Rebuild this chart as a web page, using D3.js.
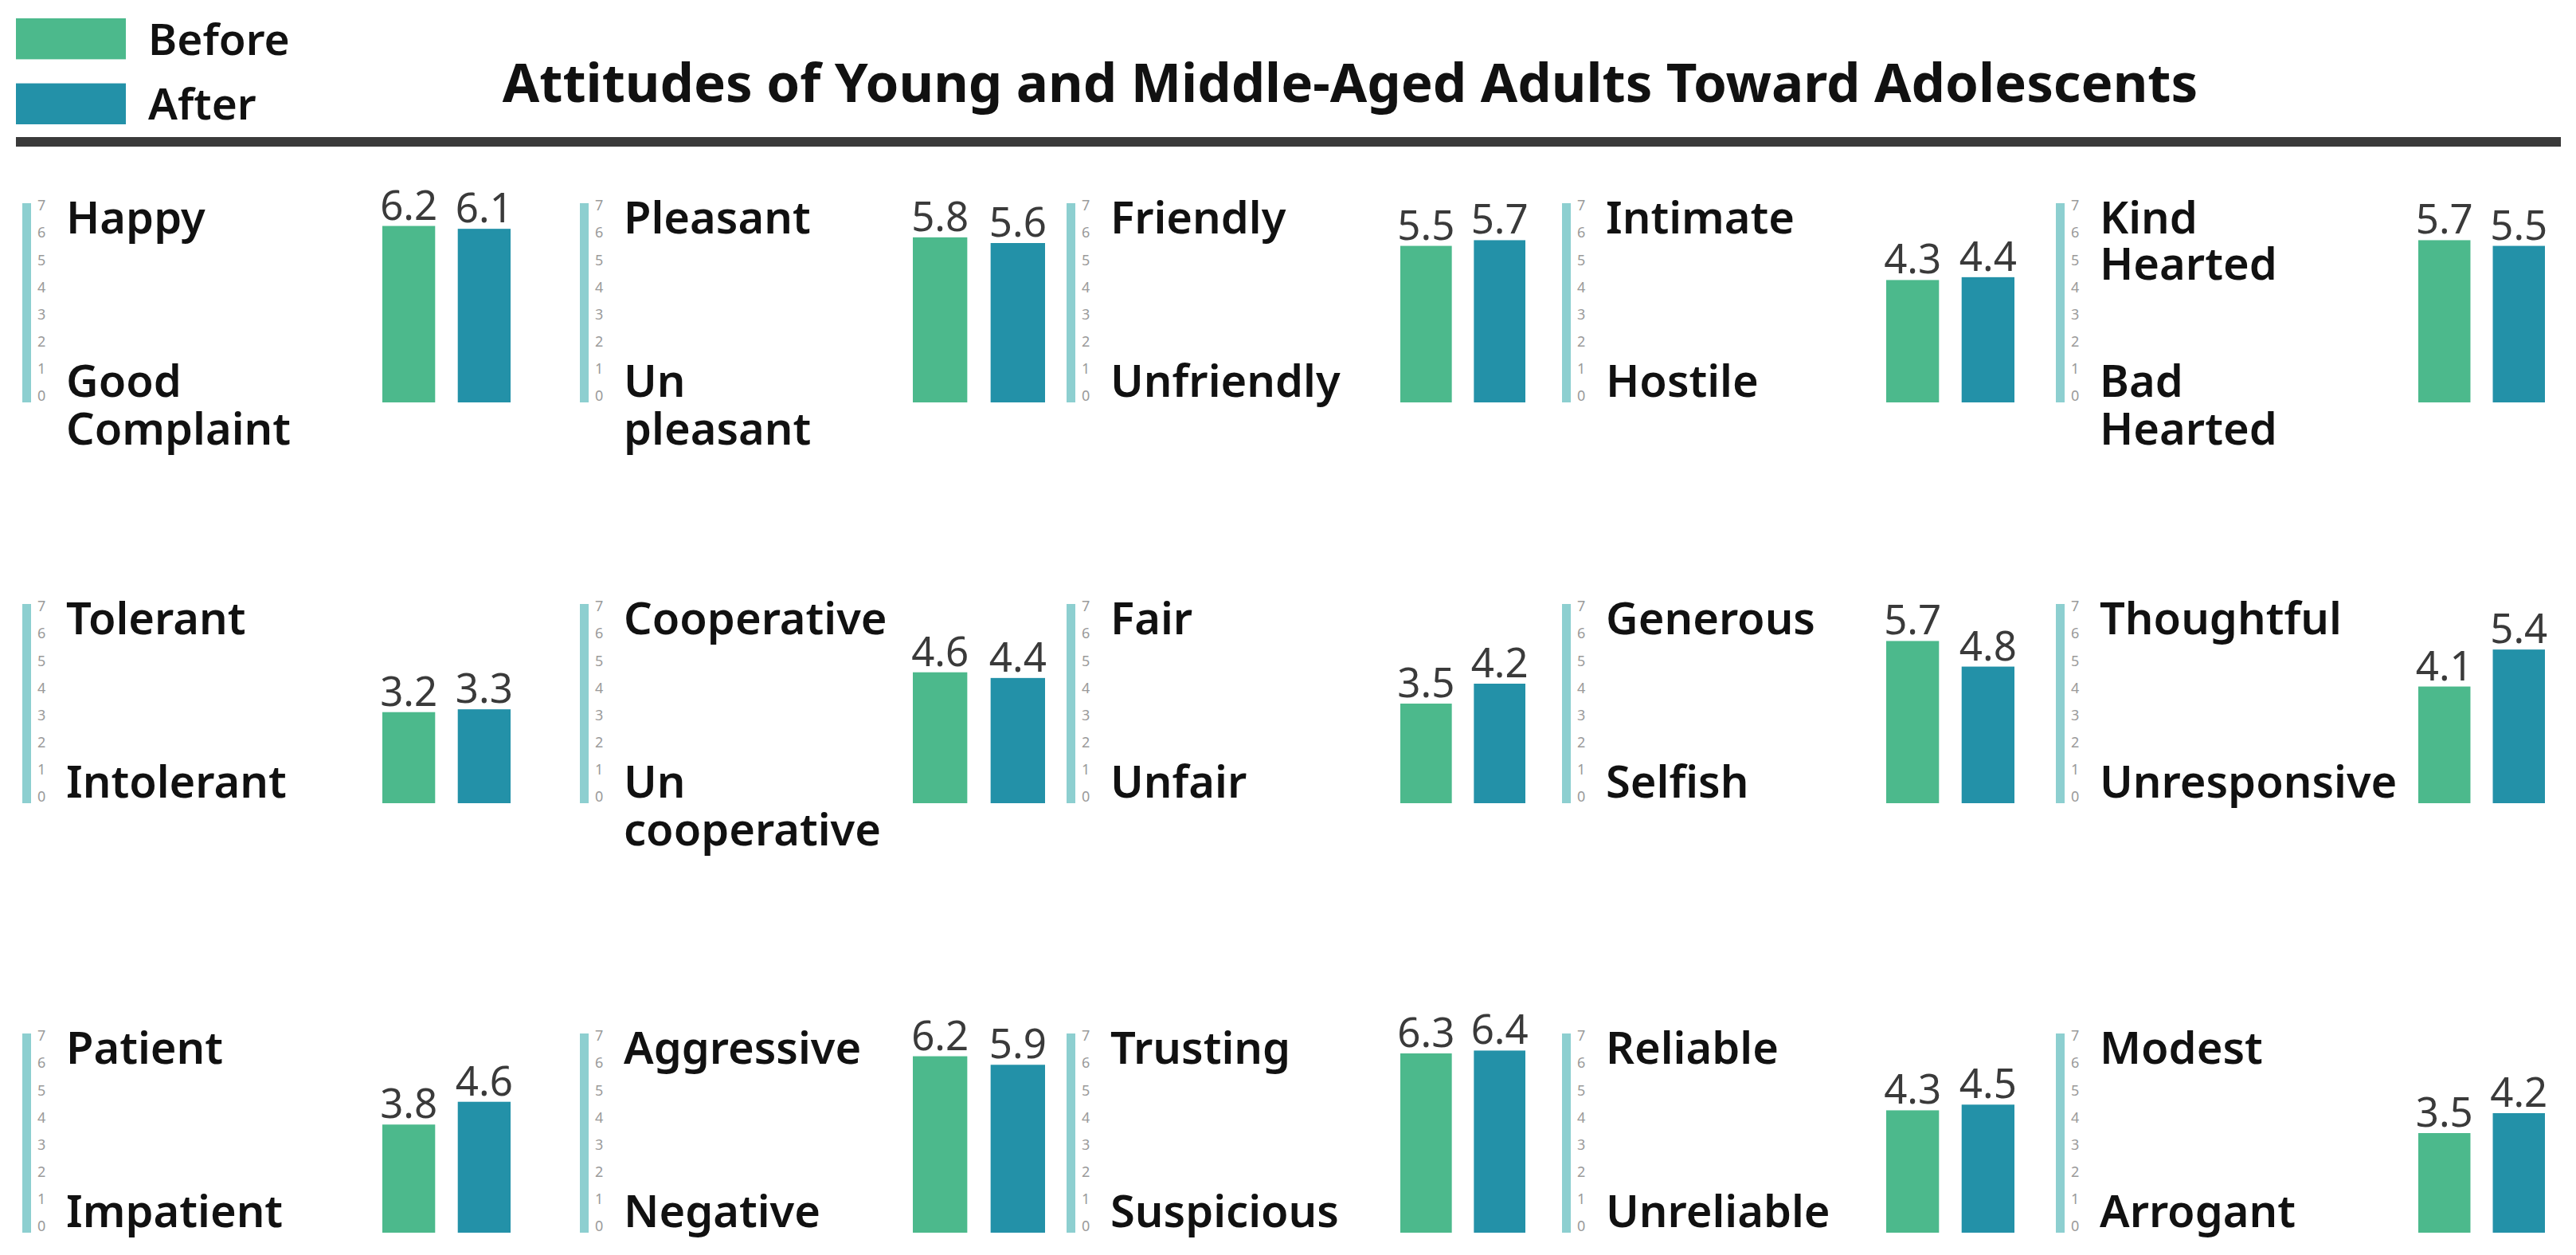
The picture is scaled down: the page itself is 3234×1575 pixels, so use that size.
<!DOCTYPE html>
<html>
<head>
<meta charset="utf-8">
<script src="https://cdn.jsdelivr.net/npm/d3@7"></script>
<style>
  html, body { margin: 0; padding: 0; background: #ffffff; }
  svg { display: block; }
</style>
</head>
<body>
<svg id="chart" width="3234" height="1575"></svg>
<script>
// ---------------- DATA ----------------
const title = "Attitudes of Young and Middle-Aged Adults Toward Adolescents";
const series = ["Before", "After"];
const topLabels = [
  ["Happy"], ["Pleasant"], ["Friendly"], ["Intimate"], ["Kind", "Hearted"],
  ["Tolerant"], ["Cooperative"], ["Fair"], ["Generous"], ["Thoughtful"],
  ["Patient"], ["Aggressive"], ["Trusting"], ["Reliable"], ["Modest"]
];
const bottomLabels = [
  ["Good", "Complaint"], ["Un", "pleasant"], ["Unfriendly"], ["Hostile"], ["Bad", "Hearted"],
  ["Intolerant"], ["Un", "cooperative"], ["Unfair"], ["Selfish"], ["Unresponsive"],
  ["Impatient"], ["Negative"], ["Suspicious"], ["Unreliable"], ["Arrogant"]
];
const beforeValues = [6.2, 5.8, 5.5, 4.3, 5.7, 3.2, 4.6, 3.5, 5.7, 4.1, 3.8, 6.2, 6.3, 4.3, 3.5];
const afterValues  = [6.1, 5.6, 5.7, 4.4, 5.5, 3.3, 4.4, 4.2, 4.8, 5.4, 4.6, 5.9, 6.4, 4.5, 4.2];
const yTickValues = [0, 1, 2, 3, 4, 5, 6, 7];

// ---------------- LAYOUT / STYLE ----------------
const colors = { Before: "#4cb98c", After: "#2391a8" };
const axisColor = "#8dcfd0";
const colAxisX = [28, 728, 1339, 1961, 2581];
const colBarRange = [[480, 641], [1146, 1312], [1758, 1915], [2368, 2529], [3036, 3195]];
const rowTop = [255, 758, 1297];
const panelH = 250;
const FONT = "'Noto Sans', 'Open Sans', sans-serif";

const svg = d3.select("#chart");

// Legend
const legend = svg.append("g");
const legendY = d3.scaleBand().domain(series).range([23, 156]).paddingInner(0.37);
series.forEach(s => {
  legend.append("rect")
    .attr("x", 20).attr("y", legendY(s))
    .attr("width", 138).attr("height", legendY.bandwidth())
    .attr("fill", colors[s]);
  legend.append("text")
    .attr("x", 186).attr("y", legendY(s) + legendY.bandwidth() / 2)
    .attr("dy", "0.36em")
    .attr("font-family", FONT).attr("font-weight", 600)
    .attr("font-size", 55).attr("fill", "#111")
    .text(s);
});

// Title (fit to reference width)
const titleEl = svg.append("text")
  .attr("x", 1695).attr("y", 128)
  .attr("text-anchor", "middle")
  .attr("font-family", FONT).attr("font-weight", 700)
  .attr("font-size", 66).attr("fill", "#111")
  .text(title);
const tw = titleEl.node().getComputedTextLength();
const targetW = 2129;
titleEl.attr("font-size", 66 * targetW / tw);

// Rule
svg.append("rect").attr("x", 20).attr("y", 172).attr("width", 3195).attr("height", 12).attr("fill", "#3a3a3a");

// Panels
const y = d3.scaleLinear().domain([0, 7]);
topLabels.forEach((tl, i) => {
  const col = i % 5, row = Math.floor(i / 5);
  const top = rowTop[row], bottom = top + panelH;
  const ax = colAxisX[col];
  y.range([bottom, top]);
  const g = svg.append("g");

  // axis bar
  g.append("rect").attr("x", ax).attr("y", top).attr("width", 11).attr("height", panelH).attr("fill", axisColor);
  // tick labels
  const tickScale = d3.scaleLinear().domain([0, 7]).range([bottom - 8, top + 3]);
  const axis = d3.axisRight(tickScale).tickValues(yTickValues).tickSize(0).tickPadding(0).tickFormat(d3.format("d"));
  const axG = g.append("g").attr("transform", `translate(${ax + 19},0)`).call(axis);
  axG.select(".domain").remove();
  axG.selectAll("text").attr("font-family", FONT).attr("font-size", 18).attr("fill", "#9a9a9a");

  // top label
  tl.forEach((line, k) => {
    g.append("text").attr("x", ax + 55).attr("y", top + 38 + k * 58)
      .attr("font-family", FONT).attr("font-weight", 600).attr("font-size", 56).attr("fill", "#111")
      .text(line);
  });
  // bottom label
  bottomLabels[i].forEach((line, k) => {
    g.append("text").attr("x", ax + 55).attr("y", bottom - 7 + k * 60)
      .attr("font-family", FONT).attr("font-weight", 600).attr("font-size", 56).attr("fill", "#111")
      .text(line);
  });

  // bars
  const x = d3.scaleBand().domain(series).range(colBarRange[col]).paddingInner(0.3);
  const vals = { Before: beforeValues[i], After: afterValues[i] };
  series.forEach(s => {
    g.append("rect")
      .attr("x", x(s)).attr("y", y(vals[s]))
      .attr("width", x.bandwidth()).attr("height", bottom - y(vals[s]))
      .attr("fill", colors[s]);
    g.append("text")
      .attr("x", x(s) + x.bandwidth() / 2).attr("y", y(vals[s]) - 8)
      .attr("text-anchor", "middle")
      .attr("font-family", FONT).attr("font-size", 51).attr("fill", "#3a3a3a")
      .text(d3.format(".1f")(vals[s]));
  });
});
</script>
</body>
</html>
